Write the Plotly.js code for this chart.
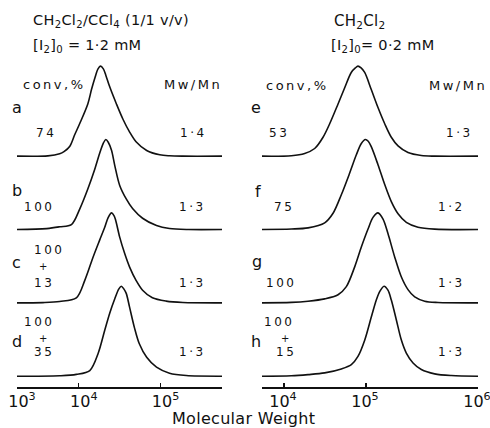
<!DOCTYPE html>
<html><head><meta charset="utf-8">
<script src="https://cdn.plot.ly/plotly-3.0.1.min.js"></script>
<style>
html,body{margin:0;padding:0;background:#fff}
#chart{width:490px;height:428px}
.annotation .annotation-text{letter-spacing:2.5px}
.annotation[data-index="0"] .annotation-text,
.annotation[data-index="1"] .annotation-text,
.annotation[data-index="2"] .annotation-text,
.annotation[data-index="3"] .annotation-text,
.annotation[data-index="4"] .annotation-text{letter-spacing:0.3px}
</style></head><body><div id="chart"></div>
<script>
// GPC calibration: log10(M) tick values and their elution-axis positions
const calLogM = [3, 4, 5, 6];
const calPos  = [0, 62, 144, 256];

// Left column: CH2Cl2/CCl4, [I2]0 = 1.2 mM
const logM_a = [3.00, 3.50, 3.69, 3.76, 3.855, 3.935, 4.01, 4.11, 4.155, 4.20, 4.235, 4.265, 4.30, 4.33, 4.378, 4.46, 4.54, 4.62, 4.70, 4.83, 4.99, 5.08, 5.20, 5.55];
const h_a    = [0, 0.003, 0.026, 0.05, 0.11, 0.24, 0.36, 0.58, 0.74, 0.88, 0.97, 1.0, 0.97, 0.90, 0.77, 0.58, 0.41, 0.27, 0.16, 0.063, 0.015, 0.004, 0, 0];
const logM_b = [3.00, 3.48, 3.69, 3.88, 4.012, 4.11, 4.195, 4.256, 4.30, 4.33, 4.36, 4.40, 4.44, 4.50, 4.58, 4.66, 4.78, 4.95, 5.08, 5.25, 5.55];
const h_b    = [0, 0.01, 0.03, 0.055, 0.23, 0.45, 0.67, 0.85, 0.96, 1.0, 0.97, 0.88, 0.71, 0.49, 0.34, 0.23, 0.125, 0.044, 0.011, 0, 0];
const logM_c = [3.00, 3.42, 3.69, 3.96, 4.073, 4.175, 4.256, 4.317, 4.36, 4.40, 4.43, 4.45, 4.50, 4.56, 4.62, 4.70, 4.78, 4.90, 5.05, 5.20, 5.55];
const h_c    = [0, 0.003, 0.015, 0.056, 0.25, 0.51, 0.70, 0.84, 0.95, 1.0, 0.97, 0.92, 0.73, 0.55, 0.40, 0.25, 0.14, 0.056, 0.019, 0.004, 0];
const logM_d = [3.00, 3.69, 3.96, 4.134, 4.235, 4.317, 4.378, 4.44, 4.49, 4.52, 4.55, 4.58, 4.62, 4.68, 4.74, 4.83, 4.95, 5.08, 5.23, 5.55];
const h_d    = [0, 0.005, 0.02, 0.063, 0.25, 0.51, 0.70, 0.86, 0.97, 1.0, 0.97, 0.92, 0.77, 0.54, 0.36, 0.21, 0.10, 0.033, 0.007, 0];

// Right column: CH2Cl2, [I2]0 = 0.2 mM
const logM_e = [3.645, 4.09, 4.252, 4.374, 4.476, 4.557, 4.659, 4.74, 4.82, 4.87, 4.902, 4.94, 4.984, 5.047, 5.107, 5.167, 5.226, 5.286, 5.375, 5.494, 5.613, 6.0];
const h_e    = [0, 0.005, 0.03, 0.085, 0.21, 0.36, 0.58, 0.76, 0.93, 0.98, 1.0, 0.98, 0.93, 0.74, 0.54, 0.36, 0.21, 0.114, 0.04, 0.007, 0, 0];
const logM_f = [3.645, 4.09, 4.293, 4.496, 4.598, 4.699, 4.80, 4.882, 4.943, 4.992, 5.02, 5.047, 5.107, 5.167, 5.226, 5.286, 5.36, 5.464, 5.613, 6.0];
const h_f    = [0, 0.005, 0.018, 0.074, 0.18, 0.386, 0.625, 0.83, 0.956, 1.0, 0.98, 0.92, 0.72, 0.50, 0.31, 0.175, 0.08, 0.026, 0.004, 0];
const logM_g = [3.645, 4.09, 4.293, 4.496, 4.659, 4.76, 4.862, 4.943, 5.018, 5.0625, 5.107, 5.152, 5.196, 5.256, 5.315, 5.375, 5.435, 5.524, 5.643, 6.0];
const h_g    = [0, 0.005, 0.018, 0.044, 0.09, 0.18, 0.40, 0.62, 0.82, 0.95, 1.0, 0.93, 0.77, 0.51, 0.29, 0.147, 0.066, 0.018, 0.004, 0];
const logM_h = [3.645, 4.09, 4.293, 4.496, 4.699, 4.821, 4.902, 4.984, 5.048, 5.092, 5.122, 5.161, 5.196, 5.226, 5.271, 5.315, 5.36, 5.42, 5.494, 5.613, 5.762, 6.0];
const h_h    = [0, 0.005, 0.018, 0.037, 0.081, 0.129, 0.22, 0.40, 0.66, 0.846, 0.94, 1.0, 0.956, 0.846, 0.625, 0.404, 0.257, 0.147, 0.074, 0.026, 0.007, 0];

const leftTickLogM  = [3, 4, 5];
const rightTickLogM = [4, 5, 6];
const leftRangeLogM  = [3.0, 5.55];
const rightRangeLogM = [3.645, 6.0];

// vertical stacking (layout)
const rowBase = 0.12, rowGap = 0.815;

function toPos(lm) {
  for (let i = 0; i < calLogM.length - 1; i++) {
    if (lm <= calLogM[i + 1] || i === calLogM.length - 2) {
      const t = (lm - calLogM[i]) / (calLogM[i + 1] - calLogM[i]);
      return calPos[i] + t * (calPos[i + 1] - calPos[i]);
    }
  }
}

const W = 490, H = 428;
const FONT = 'DejaVu Sans, sans-serif';
const traces = [];
function addCurve(lm, h, row, xa, ya) {
  traces.push({
    x: lm.map(toPos), y: h.map(v => v + rowBase + row * rowGap),
    xaxis: xa, yaxis: ya, type: 'scatter', mode: 'lines',
    line: {color: '#111', width: 1.6, shape: 'spline', smoothing: 0.9},
    hoverinfo: 'skip', cliponaxis: false
  });
}
addCurve(logM_a, h_a, 3, 'x', 'y');
addCurve(logM_b, h_b, 2, 'x', 'y');
addCurve(logM_c, h_c, 1, 'x', 'y');
addCurve(logM_d, h_d, 0, 'x', 'y');
addCurve(logM_e, h_e, 3, 'x2', 'y2');
addCurve(logM_f, h_f, 2, 'x2', 'y2');
addCurve(logM_g, h_g, 1, 'x2', 'y2');
addCurve(logM_h, h_h, 0, 'x2', 'y2');

const px = v => v / W, py = v => 1 - v / H;
function ann(text, x, y, size) {
  return {text: text, x: px(x), y: py(y), xref: 'paper', yref: 'paper',
    xanchor: 'left', yanchor: 'middle', align: 'left', showarrow: false,
    borderpad: 0,
    font: {family: FONT, size: size, color: '#111'}};
}
const annotations = [
  ann('CH<sub>2</sub>Cl<sub>2</sub>/CCl<sub>4</sub> (1/1 v/v)', 32, 21, 14.5),
  ann('[I<sub>2</sub>]<sub>0</sub> = 1·2 mM', 32, 46, 14.5),
  ann('CH<sub>2</sub>Cl<sub>2</sub>', 333, 21, 15),
  ann('[I<sub>2</sub>]<sub>0</sub>= 0·2 mM', 330, 46, 14.5),
  ann('Molecular Weight', 171, 418, 16),
  ann('conv,%', 22, 84, 13), ann('Mw/Mn', 163, 84, 13),
  ann('a', 11, 108, 16), ann('74', 35, 133, 12), ann('1·4', 179, 133, 12),
  ann('b', 11, 190, 16), ann('100', 23, 207, 12), ann('1·3', 178, 207, 12),
  ann('c', 11, 262, 16), ann('100', 33, 250, 12), ann('+', 38, 266, 10), ann('13', 33, 283, 12), ann('1·3', 178, 283, 12),
  ann('d', 11, 341, 16), ann('100', 23, 322, 12), ann('+', 38, 338, 10), ann('35', 33, 352, 12), ann('1·3', 178, 352, 12),
  ann('conv,%', 265, 85, 13), ann('Mw/Mn', 428, 85, 13),
  ann('e', 250, 108, 16), ann('53', 268, 133, 12), ann('1·3', 445, 133, 12),
  ann('f', 254, 191, 16), ann('75', 273, 207, 12), ann('1·2', 437, 207, 12),
  ann('g', 251, 261, 16), ann('100', 265, 283, 12), ann('1·3', 437, 283, 12),
  ann('h', 250, 341, 16), ann('100', 263, 322, 12), ann('+', 280, 338, 10), ann('15', 275, 352, 12), ann('1·3', 437, 352, 12)
];

const xBase = {
  type: 'linear', showgrid: false, zeroline: false, showline: true,
  linecolor: '#111', linewidth: 1.5, ticks: 'inside', ticklen: 4, tickwidth: 1.3,
  tickcolor: '#111', tickfont: {family: FONT, size: 16, color: '#111'},
  tickmode: 'array', fixedrange: true, ticklabeloverflow: 'allow', ticklabelstandoff: -1
};
const yBase = {visible: false, range: [0, 387 / 90], domain: [41 / H, 1], fixedrange: true};

const layout = {
  width: W, height: H, margin: {l: 0, r: 0, t: 0, b: 0},
  paper_bgcolor: '#fff', plot_bgcolor: 'rgba(0,0,0,0)', showlegend: false,
  xaxis: Object.assign({}, xBase, {
    domain: [17 / W, 222 / W], range: leftRangeLogM.map(toPos), anchor: 'y',
    tickvals: leftTickLogM.map(toPos), ticktext: leftTickLogM.map(n => '10<sup>' + n + '</sup>'),
    ticklabelshift: 5
  }),
  xaxis2: Object.assign({}, xBase, {
    domain: [262 / W, 478 / W], range: rightRangeLogM.map(toPos), anchor: 'y2',
    tickvals: rightTickLogM.map(toPos), ticktext: rightTickLogM.map(n => '10<sup>' + n + '</sup>'),
    ticklabelshift: -1
  }),
  yaxis: Object.assign({}, yBase, {anchor: 'x'}),
  yaxis2: Object.assign({}, yBase, {anchor: 'x2'}),
  annotations: annotations
};
Plotly.newPlot('chart', traces, layout, {staticPlot: true, displayModeBar: false});
</script></body></html>
